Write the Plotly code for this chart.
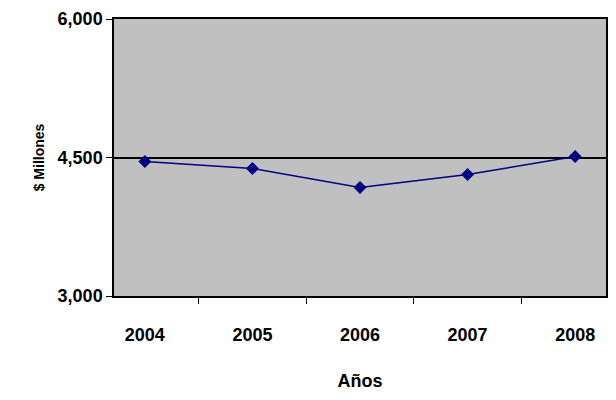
import plotly.graph_objects as go

years = ["2004", "2005", "2006", "2007", "2008"]
values = [4457, 4381, 4175, 4316, 4511]

fig = go.Figure()
fig.add_trace(go.Scatter(x=years, y=values, mode="lines+markers",
                         line=dict(color="#000080", width=1.5),
                         marker=dict(symbol="diamond", size=10, color="#000080")))

bold = dict(family="Liberation Sans, Arial", size=18, color="black", weight="bold")
fig.update_layout(
    width=600, height=384,
    margin=dict(l=106, r=0, t=11, b=96),
    paper_bgcolor="white", plot_bgcolor="#C0C0C0",
    showlegend=False,
    font=dict(family="Liberation Sans, Arial", size=16, color="black"),
    xaxis=dict(title=dict(text="Años", font=bold, standoff=30),
               tickfont=bold, ticklabelstandoff=22,
               showline=True, linecolor="black", linewidth=1.5, mirror=True,
               ticks="outside", tickson="boundaries", ticklen=6, tickcolor="black",
               showgrid=False),
    yaxis=dict(title=dict(text="$ Millones", standoff=10,
                          font=dict(family="Liberation Sans, Arial", size=14, color="black", weight="bold")),
               range=[3000, 6000], tickvals=[3000, 4500, 6000],
               tickformat=",", tickfont=bold,
               showline=True, linecolor="black", linewidth=1.5, mirror=True,
               ticks="outside", ticklen=6, tickcolor="black",
               showgrid=True, gridcolor="black", gridwidth=1.5, zeroline=False),
)
fig.write_html("out.html")
